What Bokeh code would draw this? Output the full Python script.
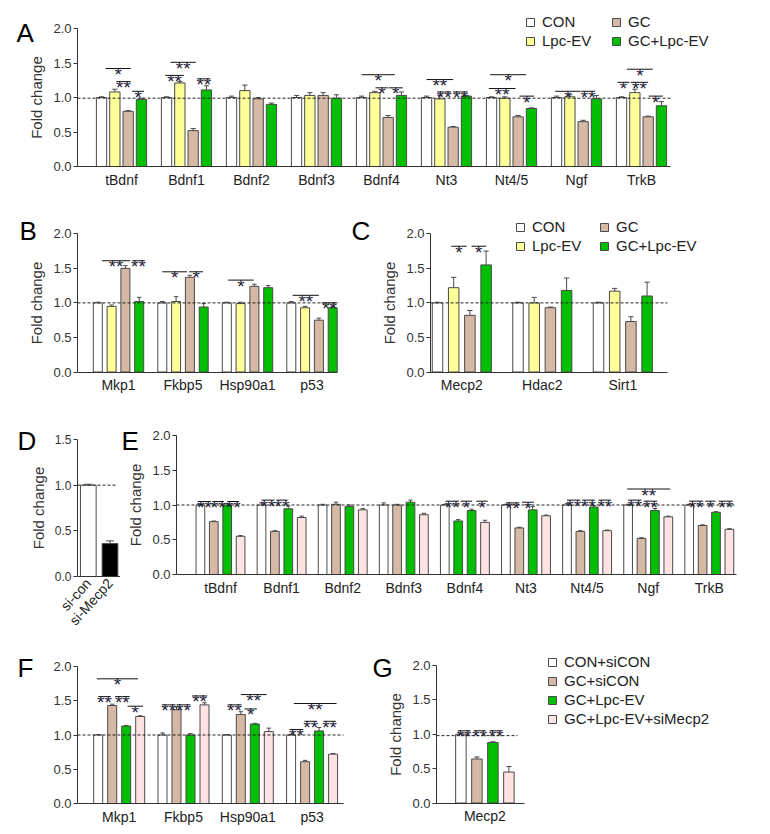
from bokeh.plotting import figure
from bokeh.layouts import column, row
from bokeh.models import (Range1d, FixedTicker, NumeralTickFormatter, Label,
                          Legend, LegendItem)
from bokeh.core.properties import value
from bokeh.embed import file_html
from bokeh.resources import INLINE

# ---------------------------------------------------------------- data
# Panel A
a_genes = ["tBdnf", "Bdnf1", "Bdnf2", "Bdnf3", "Bdnf4", "Nt3", "Nt4/5", "Ngf", "TrkB"]
a_groups = ["CON", "Lpc-EV", "GC", "GC+Lpc-EV"]
a_con = [1.00, 1.00, 1.00, 1.00, 1.00, 1.00, 1.00, 1.00, 1.00]
a_con_err = [0.01, 0.01, 0.02, 0.03, 0.02, 0.02, 0.01, 0.02, 0.01]
a_lpc = [1.08, 1.21, 1.10, 1.03, 1.07, 0.98, 0.99, 1.01, 1.07]
a_lpc_err = [0.04, 0.02, 0.08, 0.04, 0.02, 0.05, 0.02, 0.03, 0.05]
a_gc = [0.80, 0.52, 0.98, 1.03, 0.71, 0.57, 0.72, 0.65, 0.72]
a_gc_err = [0.01, 0.03, 0.02, 0.04, 0.03, 0.01, 0.02, 0.02, 0.01]
a_gclpc = [0.97, 1.11, 0.90, 0.99, 1.03, 1.02, 0.84, 0.98, 0.88]
a_gclpc_err = [0.02, 0.06, 0.02, 0.05, 0.05, 0.01, 0.01, 0.05, 0.06]
# (gene index, from bar, to bar, bracket height, label)
a_sig = [(0, 0.3, 2.2, 1.42, "*"), (0, 1.1, 2.2, 1.23, "**"), (0, 2.3, 3.2, 1.09, "*"),
         (1, 0.3, 2.2, 1.51, "**"), (1, -0.1, 1.3, 1.32, "**"), (1, 2.3, 3.3, 1.27, "**"),
         (4, 0.0, 2.5, 1.33, "*"), (4, 1.05, 2.0, 1.14, "*"), (4, 2.05, 3.1, 1.14, "*"),
         (5, 0.0, 2.0, 1.26, "**"), (5, 0.8, 1.85, 1.08, "**"), (5, 2.0, 3.1, 1.08, "**"),
         (6, -0.1, 2.6, 1.33, "*"), (6, -0.2, 1.8, 1.13, "**"), (6, 2.1, 3.2, 1.02, "*"),
         (7, -0.1, 1.8, 1.09, "*"), (7, 1.85, 2.9, 1.09, "**"),
         (8, 0.4, 2.35, 1.41, "*"), (8, -0.3, 0.6, 1.22, "*"), (8, 0.7, 2.0, 1.22, "**"),
         (8, 2.05, 3.1, 1.02, "*")]

# Panel B
b_genes = ["Mkp1", "Fkbp5", "Hsp90a1", "p53"]
b_con = [1.00, 1.00, 1.00, 1.00]
b_con_err = [0.01, 0.02, 0.01, 0.02]
b_lpc = [0.95, 1.02, 0.99, 0.93]
b_lpc_err = [0.02, 0.07, 0.02, 0.02]
b_gc = [1.50, 1.37, 1.24, 0.75]
b_gc_err = [0.04, 0.03, 0.03, 0.03]
b_gclpc = [1.02, 0.94, 1.22, 0.93]
b_gclpc_err = [0.06, 0.05, 0.03, 0.02]
b_sig = [(0, 0.3, 2.35, 1.61, "**"), (0, 2.5, 3.4, 1.61, "**"),
         (1, 0.0, 1.8, 1.45, "*"), (1, 1.95, 2.95, 1.45, "*"),
         (2, 0.1, 1.95, 1.33, "*"),
         (3, 0.1, 2.0, 1.11, "**"), (3, 2.2, 3.35, 1.00, "**")]

# Panel C
c_genes = ["Mecp2", "Hdac2", "Sirt1"]
c_con = [1.00, 1.00, 1.00]
c_con_err = [0.01, 0.01, 0.01]
c_lpc = [1.22, 1.00, 1.17]
c_lpc_err = [0.15, 0.08, 0.04]
c_gc = [0.82, 0.93, 0.73]
c_gc_err = [0.07, 0.01, 0.07]
c_gclpc = [1.55, 1.18, 1.10]
c_gclpc_err = [0.20, 0.18, 0.20]
c_sig = [(0, 0.85, 1.8, 1.82, "*"), (0, 2.1, 3.0, 1.82, "*")]

# Panel D
d_groups = ["si-con", "si-Mecp2"]
d_val = [1.00, 0.36]
d_err = [0.01, 0.03]

# Panel E
e_genes = ["tBdnf", "Bdnf1", "Bdnf2", "Bdnf3", "Bdnf4", "Nt3", "Nt4/5", "Ngf", "TrkB"]
e_groups = ["CON+siCON", "GC+siCON", "GC+Lpc-EV", "GC+Lpc-EV+siMecp2"]
e_con = [1.00, 1.00, 1.00, 1.00, 1.00, 1.00, 1.00, 1.00, 1.00]
e_con_err = [0.01, 0.03, 0.01, 0.03, 0.01, 0.01, 0.02, 0.01, 0.01]
e_gc = [0.76, 0.62, 1.01, 1.00, 0.77, 0.67, 0.62, 0.52, 0.705]
e_gc_err = [0.01, 0.01, 0.03, 0.01, 0.02, 0.01, 0.01, 0.01, 0.01]
e_gclpc = [1.00, 0.945, 0.98, 1.04, 0.92, 0.93, 0.97, 0.92, 0.895]
e_gclpc_err = [0.02, 0.04, 0.02, 0.03, 0.02, 0.05, 0.02, 0.03, 0.01]
e_si = [0.55, 0.82, 0.93, 0.86, 0.75, 0.845, 0.63, 0.83, 0.65]
e_si_err = [0.01, 0.02, 0.02, 0.02, 0.03, 0.01, 0.01, 0.01, 0.01]
e_sig = [(0, -0.2, 0.8, 1.05, "**"), (0, 0.9, 1.75, 1.05, "**"), (0, 2.0, 2.9, 1.05, "**"),
         (1, 0.0, 0.97, 1.07, "**"), (1, 1.1, 1.95, 1.07, "**"),
         (4, 0.05, 1.05, 1.055, "**"), (4, 1.17, 2.04, 1.055, "*"), (4, 2.35, 3.2, 1.055, "*"),
         (5, 0.0, 1.0, 1.03, "**"), (5, 1.2, 2.08, 1.04, "*"),
         (6, 0.0, 1.0, 1.07, "**"), (6, 1.13, 2.08, 1.07, "**"), (6, 2.35, 3.3, 1.07, "**"),
         (7, -0.07, 3.15, 1.23, "**"), (7, 0.0, 1.0, 1.07, "**"), (7, 1.17, 2.17, 1.055, "**"),
         (8, 0.0, 1.05, 1.055, "**"), (8, 1.2, 1.96, 1.055, "*"), (8, 2.2, 3.25, 1.055, "**")]

# Panel F
f_genes = ["Mkp1", "Fkbp5", "Hsp90a1", "p53"]
f_con = [1.00, 1.00, 1.00, 1.00]
f_con_err = [0.005, 0.03, 0.005, 0.01]
f_gc = [1.43, 1.37, 1.30, 0.61]
f_gc_err = [0.02, 0.04, 0.04, 0.02]
f_gclpc = [1.13, 1.00, 1.16, 1.06]
f_gclpc_err = [0.01, 0.02, 0.01, 0.05]
f_si = [1.27, 1.44, 1.05, 0.72]
f_si_err = [0.01, 0.03, 0.05, 0.01]
f_sig = [(0, -0.1, 2.85, 1.82, "*"), (0, 0.0, 0.9, 1.56, "**"), (0, 1.2, 2.25, 1.56, "**"),
         (0, 2.1, 3.2, 1.42, "*"),
         (1, -0.05, 0.93, 1.44, "**"), (1, 1.0, 2.0, 1.44, "**"), (1, 2.1, 3.2, 1.57, "**"),
         (2, 0.05, 1.05, 1.44, "**"), (2, 1.25, 2.15, 1.38, "*"), (2, 1.0, 2.85, 1.59, "**"),
         (3, 0.2, 3.25, 1.46, "**"), (3, -0.1, 0.87, 1.08, "**"), (3, 0.95, 1.85, 1.20, "**"),
         (3, 2.3, 3.2, 1.20, "**")]

# Panel G
g_genes = ["Mecp2"]
g_con = [1.00]
g_con_err = [0.005]
g_gc = [0.64]
g_gc_err = [0.03]
g_gclpc = [0.88]
g_gclpc_err = [0.01]
g_si = [0.45]
g_si_err = [0.08]
g_sig = [(0, -0.2, 0.6, 1.05, "**"), (0, 0.8, 1.55, 1.05, "**"), (0, 1.8, 2.6, 1.05, "**")]

# ---------------------------------------------------------------- style
FONT = "Liberation Sans"
WHITE = "#FFFFFF"
YELLOW = "#FFFF99"
TAN = "#D6B9A4"
GREEN = "#00BF00"
PINK = "#FFE2E2"
BLACK = "#000000"
EDGE = "#4A4A4A"
AX = "#333333"
STAR = "#1E1E38"

# E: the second bar of Bdnf4 is drawn green in the original
e_gc_fill = [GREEN if g == "Bdnf4" else TAN for g in e_genes]

LEG_ROW = 19      # legend row pitch (px)


class Panel:
    """A figure whose frame fills the whole figure; the axes sit at fixed
    data locations inside it.  Pixel arguments are page pixels."""

    def __init__(self, fx, fy, W, H, ax_l, ax_r, y0, ytop, ymax, centre, gpx):
        self.fx, self.fy, self.W, self.H = fx, fy, W, H
        unit = (y0 - ytop) / ymax
        self.xl = (ax_l - centre) / gpx
        self.xr = (ax_r - centre) / gpx
        self.ymax = ymax
        p = figure(width=W, height=H, output_backend="svg", toolbar_location=None,
                   x_range=Range1d((fx - centre) / gpx, (fx + W - centre) / gpx),
                   y_range=Range1d((y0 - (fy + H)) / unit, (y0 - fy) / unit),
                   min_border=0, min_border_left=0, min_border_right=0,
                   min_border_top=0, min_border_bottom=0)
        p.xgrid.visible = False
        p.ygrid.visible = False
        p.outline_line_color = None
        p.background_fill_color = "white"
        p.border_fill_color = "white"
        self.p = p

    def axes(self, genes, ylabel, tick_font="13px", x_font="14px"):
        ya = self.p.yaxis[0]
        ya.fixed_location = self.xl
        ya.bounds = (0, self.ymax)
        ya.ticker = FixedTicker(ticks=[i * 0.5 for i in range(int(round(self.ymax / 0.5)) + 1)])
        ya.formatter = NumeralTickFormatter(format="0.0")
        ya.major_tick_out = 4
        ya.major_tick_in = 0
        ya.minor_tick_out = 0
        ya.minor_tick_in = 0
        ya.major_label_standoff = 2
        ya.axis_line_color = AX
        ya.major_tick_line_color = AX
        ya.major_label_text_color = AX
        ya.major_label_text_font = FONT
        ya.major_label_text_font_size = tick_font
        if ylabel:
            ya.axis_label = "Fold change"
            ya.axis_label_text_font = FONT
            ya.axis_label_text_font_size = "15px"
            ya.axis_label_text_font_style = "normal"
            ya.axis_label_text_color = AX
            ya.axis_label_standoff = 5
        xa = self.p.xaxis[0]
        xa.fixed_location = 0
        xa.bounds = (self.xl, self.xr)
        xa.ticker = FixedTicker(ticks=list(range(len(genes))))
        xa.major_label_overrides = {i: g for i, g in enumerate(genes)}
        xa.major_tick_out = 0
        xa.major_tick_in = 0
        xa.minor_tick_out = 0
        xa.minor_tick_in = 0
        xa.major_label_standoff = 5
        xa.axis_line_color = AX
        xa.major_label_text_color = "#222222"
        xa.major_label_text_font = FONT
        xa.major_label_text_font_size = x_font

    def bars(self, genes, means, errs, colours, bar_w, step):
        p = self.p
        n = len(means)
        self.n, self.step = n, step
        rends = []
        ex, ey0, ey1, cx0, cx1, cy = [], [], [], [], [], []
        for j in range(n):
            xs = [i + (j - (n - 1) / 2) * step for i in range(len(genes))]
            r = p.vbar(x=xs, top=means[j], width=bar_w, bottom=0, fill_color=colours[j],
                       line_color=EDGE, line_width=1)
            rends.append(r)
            for x, m, e in zip(xs, means[j], errs[j]):
                ex.append(x); ey0.append(m); ey1.append(m + e)
                cx0.append(x - bar_w * 0.25); cx1.append(x + bar_w * 0.25); cy.append(m + e)
        p.segment(x0=ex, y0=ey0, x1=ex, y1=ey1, line_color=EDGE, line_width=1)
        p.segment(x0=cx0, y0=cy, x1=cx1, y1=cy, line_color=EDGE, line_width=1)
        return rends

    def sig(self, sig):
        n, st = self.n, self.step
        x0, x1, y, xm, lab = [], [], [], [], []
        for g, b0, b1, h, t in sig:
            a = g + (b0 - (n - 1) / 2) * st
            b = g + (b1 - (n - 1) / 2) * st
            x0.append(a); x1.append(b); y.append(h); xm.append((a + b) / 2); lab.append(t)
        self.p.segment(x0=x0, y0=y, x1=x1, y1=y, line_color="#111111", line_width=1)
        self.p.text(x=xm, y=y, text=lab, text_font=value(FONT), text_font_size=value("19px"),
                    text_align="center", text_baseline="alphabetic", y_offset=6,
                    text_color=STAR)

    def dash(self, level=1.0, right=None):
        xr = self.xr if right is None else right
        self.p.segment(x0=[self.xl], y0=[level], x1=[xr], y1=[level], line_color="#222222",
                       line_dash="3 2", line_width=1)

    def letter(self, ch, px, py):
        self.p.add_layout(Label(x=px - self.fx, y=self.fy + self.H - py,
                                x_units="screen", y_units="screen", text=ch,
                                text_font=FONT, text_font_size="26px", text_color="black",
                                text_baseline="alphabetic"))

    def legend(self, items, px, py):
        # one legend column; px, py = top-left in page pixels
        hgt = len(items) * LEG_ROW
        lg = Legend(items=[LegendItem(label=t, renderers=[r]) for t, r in items],
                    location=(px - self.fx, self.fy + self.H - (py + hgt)))
        lg.glyph_width = 10
        lg.glyph_height = 10
        lg.label_text_font = FONT
        lg.label_text_font_size = "15px"
        lg.label_text_color = "#222222"
        lg.label_height = LEG_ROW - 2
        lg.label_standoff = 7
        lg.spacing = 2
        lg.padding = 0
        lg.margin = 0
        lg.border_line_color = None
        lg.background_fill_alpha = 0
        self.p.add_layout(lg)


# ---------------------------------------------------------------- A
A = Panel(0, 0, 770, 195, 77, 670, 166, 28, 2.0, 121, 65)
A.axes(a_genes, True)
rA = A.bars(a_genes, [a_con, a_lpc, a_gc, a_gclpc],
            [a_con_err, a_lpc_err, a_gc_err, a_gclpc_err],
            [WHITE, YELLOW, TAN, GREEN], 10.3 / 65, 13.3 / 65)
A.sig(a_sig)
A.dash(0.99)
A.letter("A", 16, 32)
A.legend([(a_groups[0], rA[0]), (a_groups[1], rA[1])], 525, 11)
A.legend([(a_groups[2], rA[2]), (a_groups[3], rA[3])], 611, 11)

# ---------------------------------------------------------------- B  (0..345)
B = Panel(0, 195, 345, 205, 77, 337, 371.5, 233.3, 2.0, 118, 64.5)
B.axes(b_genes, True)
B.bars(b_genes, [b_con, b_lpc, b_gc, b_gclpc],
       [b_con_err, b_lpc_err, b_gc_err, b_gclpc_err],
       [WHITE, YELLOW, TAN, GREEN], 9 / 64.5, 13.8 / 64.5)
B.sig(b_sig)
B.dash(1.0)
B.letter("B", 19, 230)

# ---------------------------------------------------------------- C  (345..770)
C = Panel(345, 195, 425, 205, 430, 667, 371.5, 233.3, 2.0, 461.3, 80.5)
C.axes(c_genes, True)
rC = C.bars(c_genes, [c_con, c_lpc, c_gc, c_gclpc],
            [c_con_err, c_lpc_err, c_gc_err, c_gclpc_err],
            [WHITE, YELLOW, TAN, GREEN], 10.5 / 80.5, 16.2 / 80.5)
C.sig(c_sig)
C.dash(1.0)
C.letter("C", 351, 230)
C.legend([(a_groups[0], rC[0]), (a_groups[1], rC[1])], 515, 216)
C.legend([(a_groups[2], rC[2]), (a_groups[3], rC[3])], 599, 216)

# ---------------------------------------------------------------- D
D = Panel(0, 400, 120, 240, 77, 120, 576, 439, 1.5, 87.8, 21.7)
D.axes(d_groups, True, tick_font="12px", x_font="14px")
D.p.xaxis[0].major_label_orientation = 0.84
D.p.xaxis[0].major_label_standoff = 4
D.bars(d_groups, [d_val], [d_err], [[WHITE, BLACK]], 15.7 / 21.7, 1.0)
D.dash(1.0, right=(117 - 87.8) / 21.7)
D.letter("D", 17, 440)

# ---------------------------------------------------------------- E
E = Panel(120, 400, 650, 240, 176, 736, 574, 435, 2.0, 220, 61.1)
E.axes(e_genes, True)
E.bars(e_genes, [e_con, e_gc, e_gclpc, e_si],
       [e_con_err, e_gc_err, e_gclpc_err, e_si_err],
       [WHITE, e_gc_fill, GREEN, PINK], 8.7 / 61.1, 13.4 / 61.1)
E.sig(e_sig)
E.dash(1.0)
E.letter("E", 121, 440)

# ---------------------------------------------------------------- F  (0..350)
F = Panel(0, 640, 350, 194, 77, 343, 803, 666, 2.0, 118.7, 64.3)
F.axes(f_genes, False)
F.bars(f_genes, [f_con, f_gc, f_gclpc, f_si],
       [f_con_err, f_gc_err, f_gclpc_err, f_si_err],
       [WHITE, TAN, GREEN, PINK], 9 / 64.3, 14 / 64.3)
F.sig(f_sig)
F.dash(1.0)
F.letter("F", 17, 667)

# ---------------------------------------------------------------- G  (350..770)
G = Panel(350, 640, 420, 194, 436, 524, 802.5, 665, 2.0, 484.4, 80)
G.axes(g_genes, True)
rG = G.bars(g_genes, [g_con, g_gc, g_gclpc, g_si],
            [g_con_err, g_gc_err, g_gclpc_err, g_si_err],
            [WHITE, TAN, GREEN, PINK], 10.5 / 80, 16 / 80)
G.sig(g_sig)
G.dash(0.98, right=(517 - 484.4) / 80)
G.letter("G", 372, 667)
G.legend(list(zip(e_groups, rG)), 547, 651)

layout = column(A.p, row(B.p, C.p), row(D.p, E.p), row(F.p, G.p))
open("out.html", "w").write(file_html(layout, INLINE))
